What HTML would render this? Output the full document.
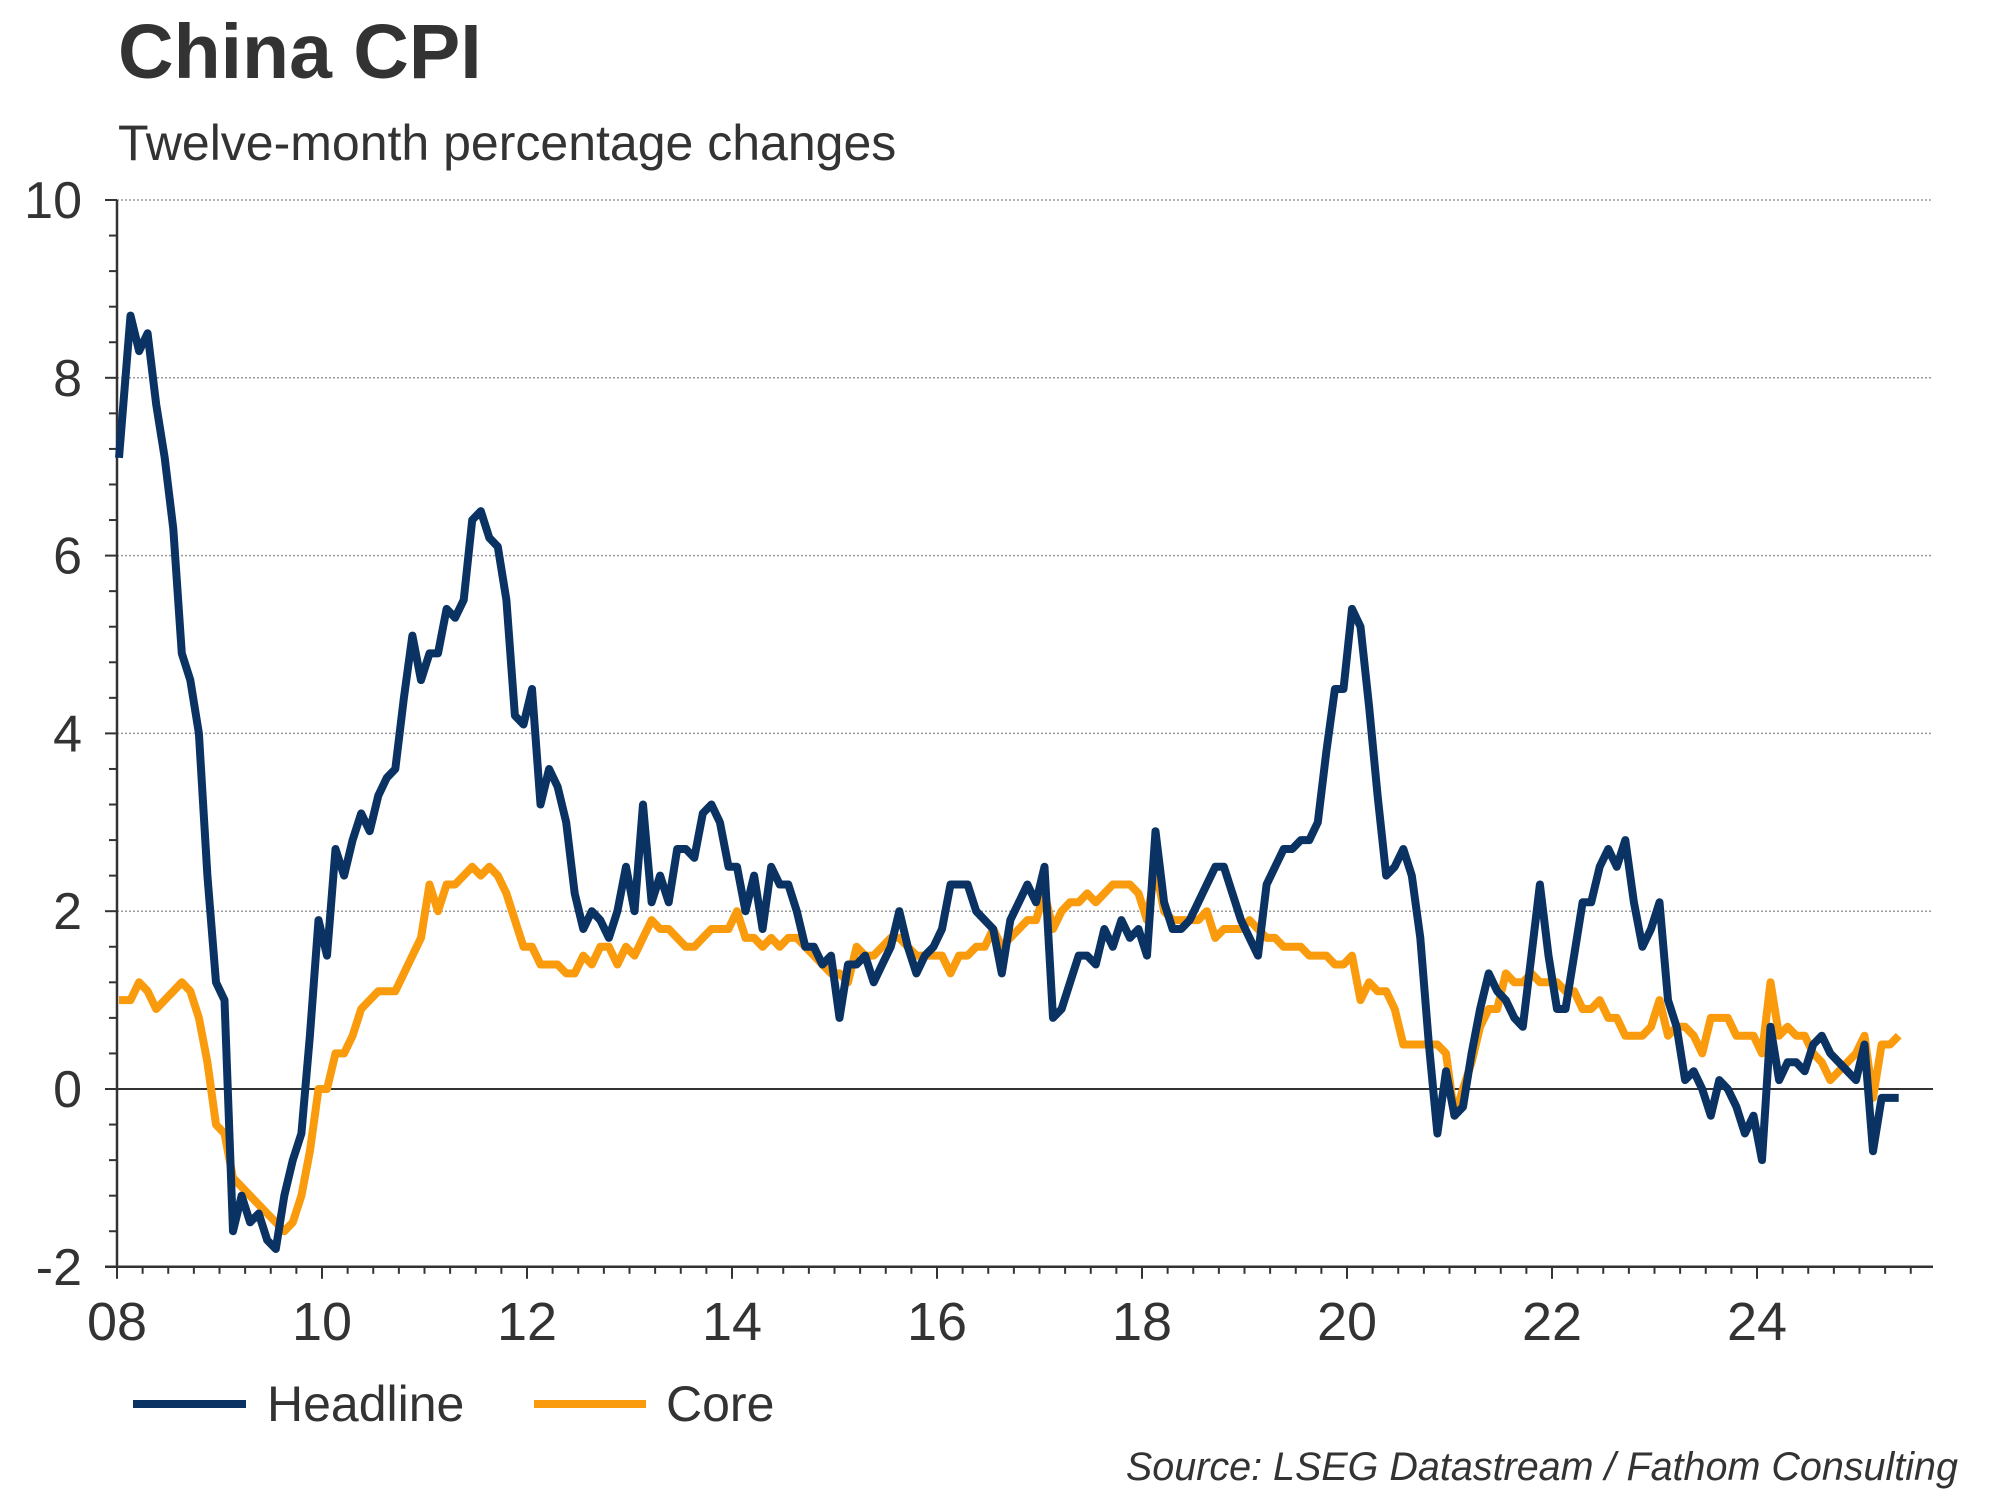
<!DOCTYPE html>
<html><head><meta charset="utf-8"><style>
html,body{margin:0;padding:0;background:#fff;}
svg{display:block;}
text{font-family:"Liberation Sans",Arial,sans-serif;fill:#333;}
</style></head><body>
<svg id="s" width="2000" height="1500" viewBox="0 0 2000 1500" xmlns="http://www.w3.org/2000/svg">
<text x="118" y="78" font-size="77" font-weight="bold" fill="#333">China CPI</text>
<text x="118" y="160" font-size="50">Twelve-month percentage changes</text>
<g id="grid"></g>
<g id="axes"></g>
<polyline id="core" fill="none" stroke="#f99b0c" stroke-width="8" stroke-linejoin="round"/>
<polyline id="head" fill="none" stroke="#0a3364" stroke-width="8" stroke-linejoin="round"/>
<line x1="133" y1="1404" x2="246" y2="1404" stroke="#0a3364" stroke-width="8"/>
<text x="267" y="1421" font-size="50">Headline</text>
<line x1="534" y1="1404" x2="646" y2="1404" stroke="#f99b0c" stroke-width="8"/>
<text x="666" y="1421" font-size="50">Core</text>
<text x="1958" y="1480" font-size="39.5" font-style="italic" text-anchor="end" fill="#3a4450">Source: LSEG Datastream / Fathom Consulting</text>
</svg>
<script>
var H=[7.1,8.7,8.3,8.5,7.7,7.1,6.3,4.9,4.6,4.0,2.4,1.2,
1.0,-1.6,-1.2,-1.5,-1.4,-1.7,-1.8,-1.2,-0.8,-0.5,0.6,1.9,
1.5,2.7,2.4,2.8,3.1,2.9,3.3,3.5,3.6,4.4,5.1,4.6,
4.9,4.9,5.4,5.3,5.5,6.4,6.5,6.2,6.1,5.5,4.2,4.1,
4.5,3.2,3.6,3.4,3.0,2.2,1.8,2.0,1.9,1.7,2.0,2.5,
2.0,3.2,2.1,2.4,2.1,2.7,2.7,2.6,3.1,3.2,3.0,2.5,
2.5,2.0,2.4,1.8,2.5,2.3,2.3,2.0,1.6,1.6,1.4,1.5,
0.8,1.4,1.4,1.5,1.2,1.4,1.6,2.0,1.6,1.3,1.5,1.6,
1.8,2.3,2.3,2.3,2.0,1.9,1.8,1.3,1.9,2.1,2.3,2.1,
2.5,0.8,0.9,1.2,1.5,1.5,1.4,1.8,1.6,1.9,1.7,1.8,
1.5,2.9,2.1,1.8,1.8,1.9,2.1,2.3,2.5,2.5,2.2,1.9,
1.7,1.5,2.3,2.5,2.7,2.7,2.8,2.8,3.0,3.8,4.5,4.5,
5.4,5.2,4.3,3.3,2.4,2.5,2.7,2.4,1.7,0.5,-0.5,0.2,
-0.3,-0.2,0.4,0.9,1.3,1.1,1.0,0.8,0.7,1.5,2.3,1.5,
0.9,0.9,1.5,2.1,2.1,2.5,2.7,2.5,2.8,2.1,1.6,1.8,
2.1,1.0,0.7,0.1,0.2,0.0,-0.3,0.1,0.0,-0.2,-0.5,-0.3,
-0.8,0.7,0.1,0.3,0.3,0.2,0.5,0.6,0.4,0.3,0.2,0.1,
0.5,-0.7,-0.1,-0.1,-0.1];
var C=[1.0,1.0,1.2,1.1,0.9,1.0,1.1,1.2,1.1,0.8,0.3,-0.4,
-0.5,-1.0,-1.1,-1.2,-1.3,-1.4,-1.5,-1.6,-1.5,-1.2,-0.7,0.0,
0.0,0.4,0.4,0.6,0.9,1.0,1.1,1.1,1.1,1.3,1.5,1.7,
2.3,2.0,2.3,2.3,2.4,2.5,2.4,2.5,2.4,2.2,1.9,1.6,
1.6,1.4,1.4,1.4,1.3,1.3,1.5,1.4,1.6,1.6,1.4,1.6,
1.5,1.7,1.9,1.8,1.8,1.7,1.6,1.6,1.7,1.8,1.8,1.8,
2.0,1.7,1.7,1.6,1.7,1.6,1.7,1.7,1.6,1.5,1.4,1.3,
1.3,1.2,1.6,1.5,1.5,1.6,1.7,1.7,1.6,1.5,1.5,1.5,
1.5,1.3,1.5,1.5,1.6,1.6,1.8,1.6,1.7,1.8,1.9,1.9,
2.2,1.8,2.0,2.1,2.1,2.2,2.1,2.2,2.3,2.3,2.3,2.2,
1.9,2.5,2.0,1.9,1.9,1.9,1.9,2.0,1.7,1.8,1.8,1.8,
1.9,1.8,1.7,1.7,1.6,1.6,1.6,1.5,1.5,1.5,1.4,1.4,
1.5,1.0,1.2,1.1,1.1,0.9,0.5,0.5,0.5,0.5,0.5,0.4,
-0.3,0.0,0.3,0.7,0.9,0.9,1.3,1.2,1.2,1.3,1.2,1.2,
1.2,1.1,1.1,0.9,0.9,1.0,0.8,0.8,0.6,0.6,0.6,0.7,
1.0,0.6,0.7,0.7,0.6,0.4,0.8,0.8,0.8,0.6,0.6,0.6,
0.4,1.2,0.6,0.7,0.6,0.6,0.4,0.3,0.1,0.2,0.3,0.4,
0.6,-0.1,0.5,0.5,0.6];
var X0=117,PM=205/24,Y0=1089,PU=88.9,XR=1933;
function X(i){return X0+i*PM;} function Y(v){return Y0-v*PU;}
function pts(a){return a.map(function(v,i){return (X(i)+(i?5:2)).toFixed(1)+","+Y(v).toFixed(1)}).join(" ");}
document.getElementById("head").setAttribute("points",pts(H));
document.getElementById("core").setAttribute("points",pts(C));
var ns="http://www.w3.org/2000/svg",g=document.getElementById("grid"),a=document.getElementById("axes");
function el(p,t,at,txt){var e=document.createElementNS(ns,t);for(var k in at)e.setAttribute(k,at[k]);if(txt)e.textContent=txt;p.appendChild(e);}
for(var v=-2;v<=10;v+=2){
 if(v>-2&&v!=0) el(g,"line",{x1:X0,x2:XR,y1:Y(v),y2:Y(v),stroke:"#999","stroke-width":1.5,"stroke-dasharray":"2,2"});
 el(a,"text",{x:82,y:Y(v)+18,"font-size":52,"text-anchor":"end"},String(v));
}
el(a,"line",{x1:X0-12,x2:XR,y1:Y(0),y2:Y(0),stroke:"#333","stroke-width":2});
el(a,"line",{x1:X0,x2:X0,y1:Y(10),y2:Y(-2),stroke:"#333","stroke-width":2.5});
el(a,"line",{x1:X0-12,x2:XR,y1:Y(-2),y2:Y(-2),stroke:"#333","stroke-width":2.5});
for(var k=0;k<=30;k++){var vv=-2+k*0.4;el(a,"line",{x1:X0-(k%5==0?12:8),x2:X0,y1:Y(vv),y2:Y(vv),stroke:"#333","stroke-width":2});}
for(var q=0;q<=70;q++){var x=X(q*3);if(x>XR)break;var maj=q%8==0;
 el(a,"line",{x1:x,x2:x,y1:Y(-2),y2:Y(-2)+(maj?12:7),stroke:"#333","stroke-width":2});
 if(maj){var yr=8+q/4;el(a,"text",{x:x,y:1340,"font-size":54,"text-anchor":"middle"},(yr<10?"0":"")+yr);}
}
</script>
</body></html>
